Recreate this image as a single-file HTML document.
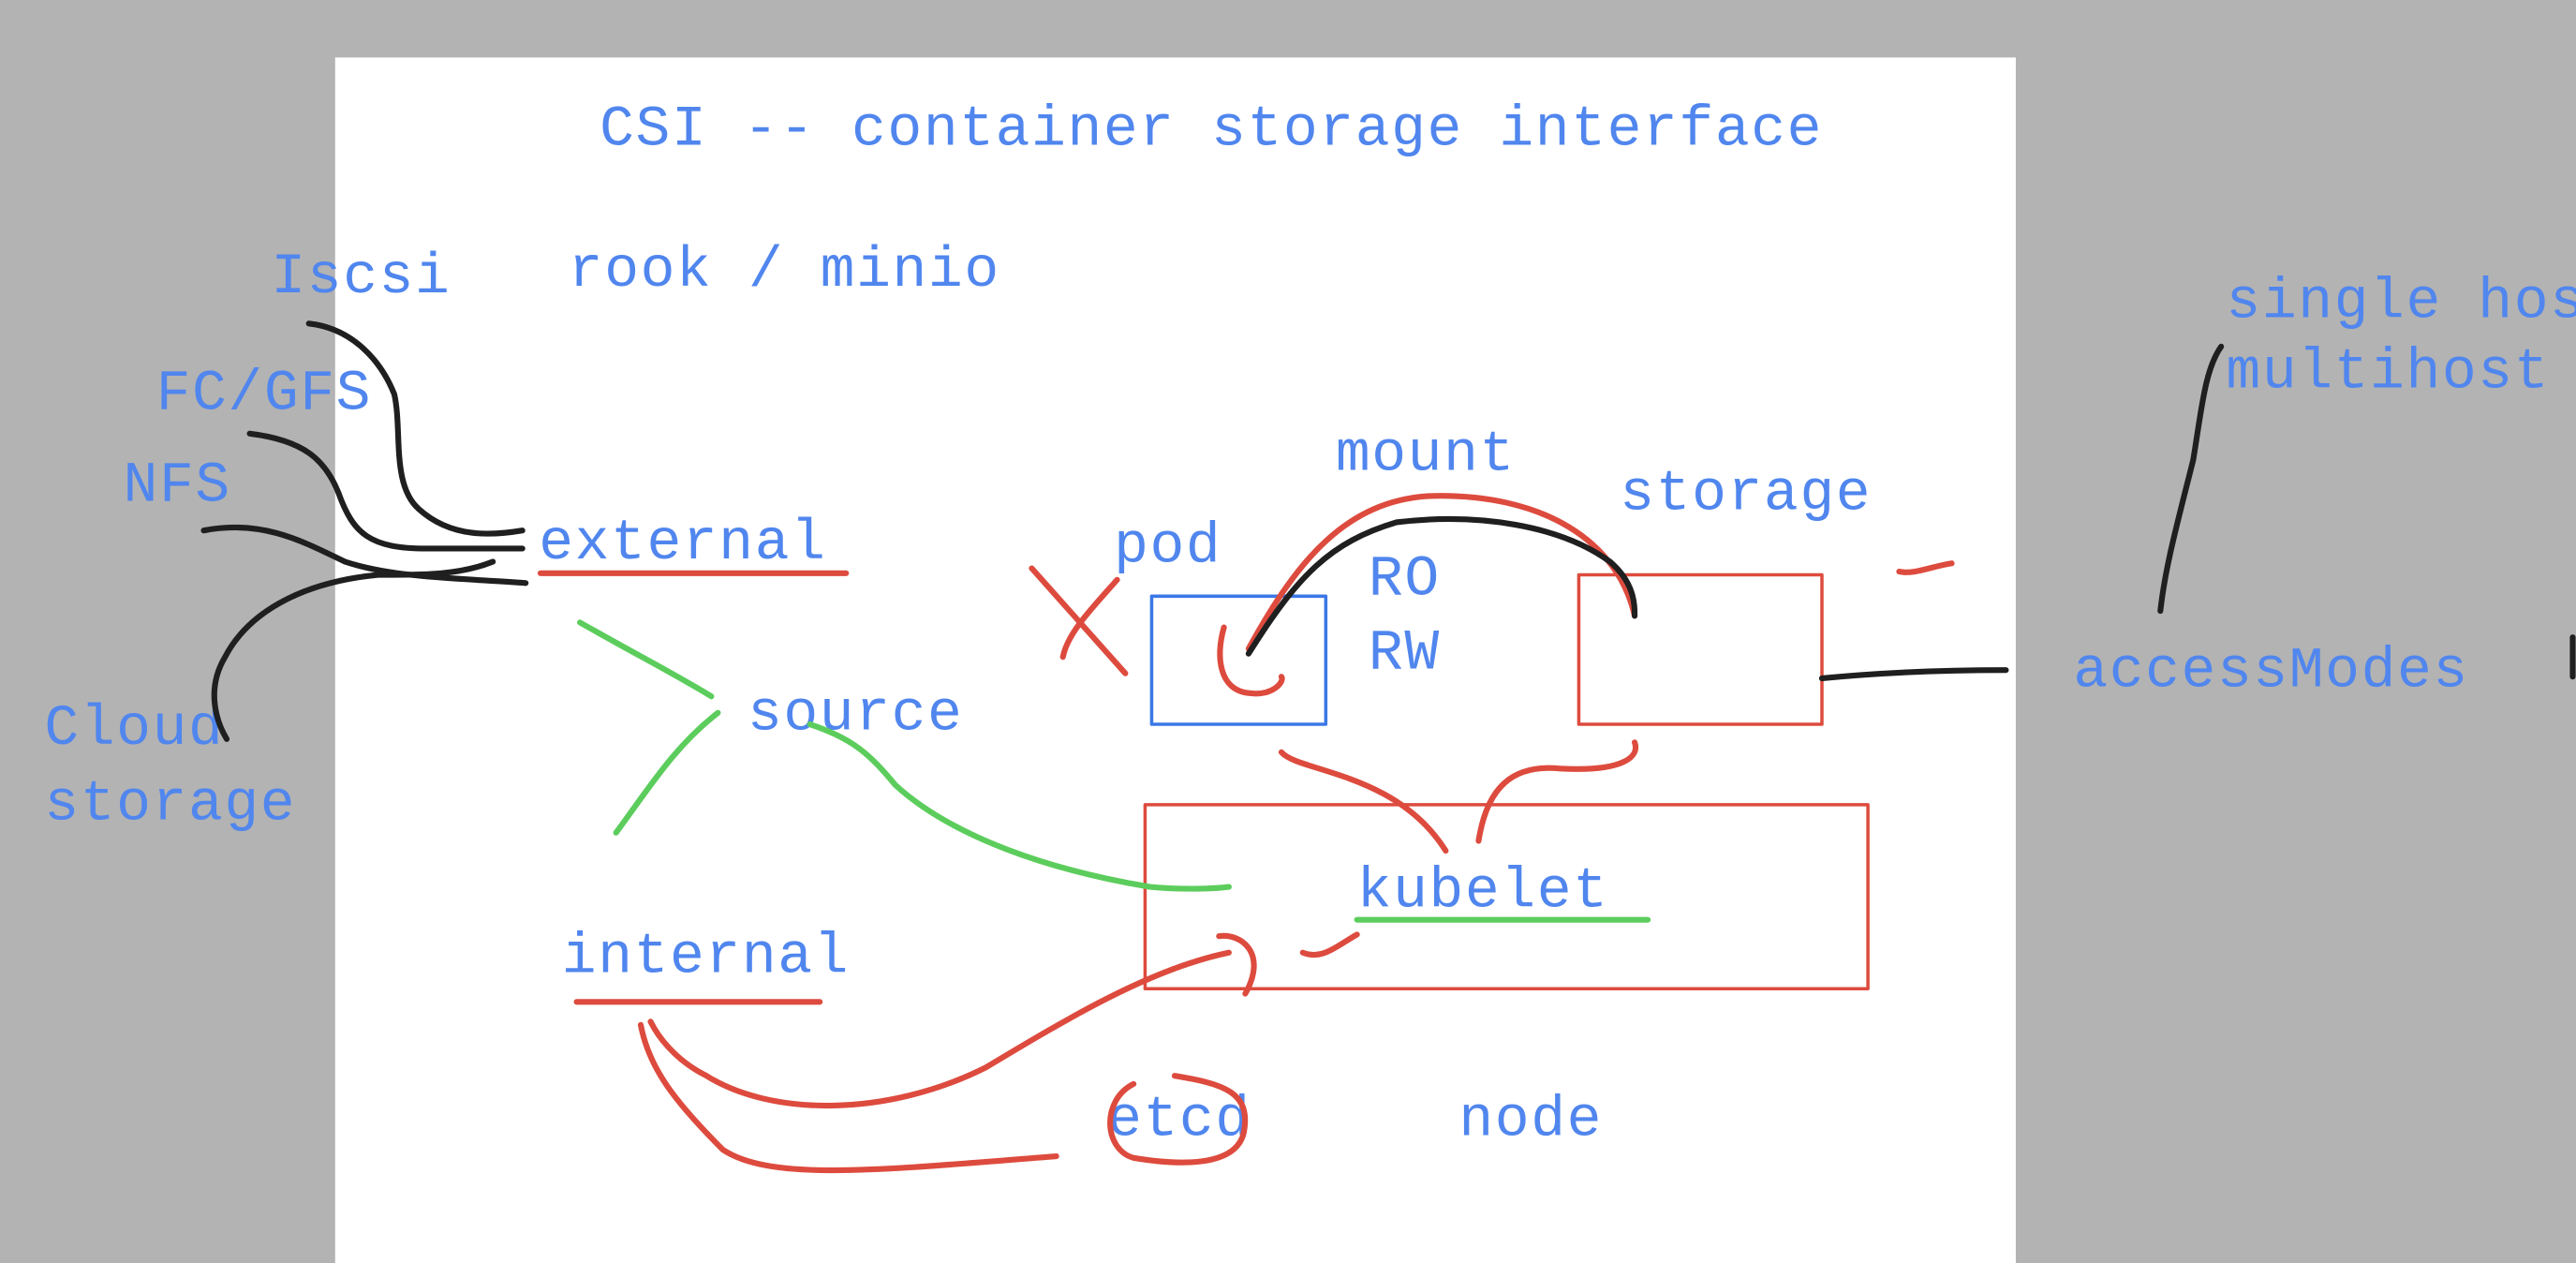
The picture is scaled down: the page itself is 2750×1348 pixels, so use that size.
<!DOCTYPE html>
<html><head><style>
html,body{margin:0;padding:0;background:#b3b3b3;}
svg{display:block;}
text{font-family:"Liberation Mono",monospace;fill:#5086ee;font-size:35px;letter-spacing:0.9px;}
</style></head><body>
<svg width="2750" height="1348" viewBox="0 0 1568 769" preserveAspectRatio="none" xmlns="http://www.w3.org/2000/svg">
<rect x="0" y="0" width="1568" height="769" fill="#b3b3b3"/>
<rect x="204" y="35" width="1023" height="734" fill="#ffffff"/>
<text x="365" y="88">CSI -- container storage interface</text>
<text x="346" y="174">rook / minio</text>
<text x="165" y="178">Iscsi</text>
<text x="95" y="249">FC/GFS</text>
<text x="75" y="305">NFS</text>
<text x="328" y="340">external</text>
<text x="27" y="453">Cloud</text>
<text x="27" y="499">storage</text>
<text x="455" y="444">source</text>
<text x="342" y="592">internal</text>
<text x="678" y="342">pod</text>
<text x="813" y="286">mount</text>
<text x="833" y="362">RO</text>
<text x="833" y="407">RW</text>
<text x="986" y="310">storage</text>
<text x="826" y="552">kubelet</text>
<text x="674" y="691">etcd</text>
<text x="888" y="691">node</text>
<text x="1355" y="193">single host</text>
<text x="1355" y="236">multihost</text>
<text x="1262" y="418">accessModes</text>
<g fill="none" stroke-linecap="round" stroke-linejoin="round">
<rect x="701" y="363" width="106" height="78" stroke="#3b78e7" stroke-width="2"/>
<rect x="961" y="350" width="148" height="91" stroke="#dd4b3e" stroke-width="2"/>
<rect x="697" y="490" width="440" height="112" stroke="#dd4b3e" stroke-width="2"/>
<g stroke="#dd4b3e" stroke-width="3.5">
<path d="M329 349 L515 349"/>
<path d="M351 610 L499 610"/>
<path d="M628 346 L685 410"/>
<path d="M680 353 C665 370 650 385 647 400"/>
<path d="M745 382 C740 400 742 420 760 422 C775 424 782 415 780 412"/>
<path d="M760 395 C790 340 820 305 870 302 C940 300 985 330 995 375"/>
<path d="M780 458 C790 470 850 470 880 518"/>
<path d="M900 512 C905 480 920 465 950 468 C990 470 998 460 995 452"/>
<path d="M1156 348 C1165 350 1175 345 1188 343"/>
<path d="M742 570 C755 568 772 580 758 605"/>
<path d="M826 569 C815 575 805 585 793 580"/>
<path d="M748 580 C700 590 650 620 600 650 C540 680 470 680 430 655 C410 645 400 630 396 622"/>
<path d="M390 624 C395 650 410 670 440 700 C470 720 540 712 643 704"/>
<path d="M690 660 C670 670 672 700 690 705 C720 710 752 710 757 690 C762 665 745 660 715 655"/>
</g>
<g stroke="#5ccd5c" stroke-width="3.5">
<path d="M826 560 L1003 560"/>
<path d="M353 379 C390 400 410 410 433 424"/>
<path d="M437 434 C410 455 395 480 375 507"/>
<path d="M493 441 C520 450 530 460 545 478 C580 510 640 530 700 540 C720 542 740 541 748 540"/>
</g>
<g stroke="#1f1f1f" stroke-width="3.5">
<path d="M188 197 C215 200 232 220 240 240 C245 262 238 295 255 310 C275 328 300 326 318 323"/>
<path d="M152 264 C185 268 198 280 206 300 C215 325 225 334 260 334 L318 334"/>
<path d="M124 323 C160 316 185 330 210 342 C240 352 280 352 320 355"/>
<path d="M300 342 C280 350 260 350 230 350 C180 355 150 375 137 400 C125 420 132 440 138 450"/>
<path d="M760 398 C790 350 810 330 850 318 C900 312 950 320 980 342 C995 355 995 368 995 375"/>
<path d="M1109 413 C1140 410 1180 408 1221 408"/>
<path d="M1352 211 C1342 225 1340 250 1335 280 C1325 320 1318 345 1315 372"/>
<path d="M1566 388 L1566 412"/>
</g>
</g>
</svg>
</body></html>
